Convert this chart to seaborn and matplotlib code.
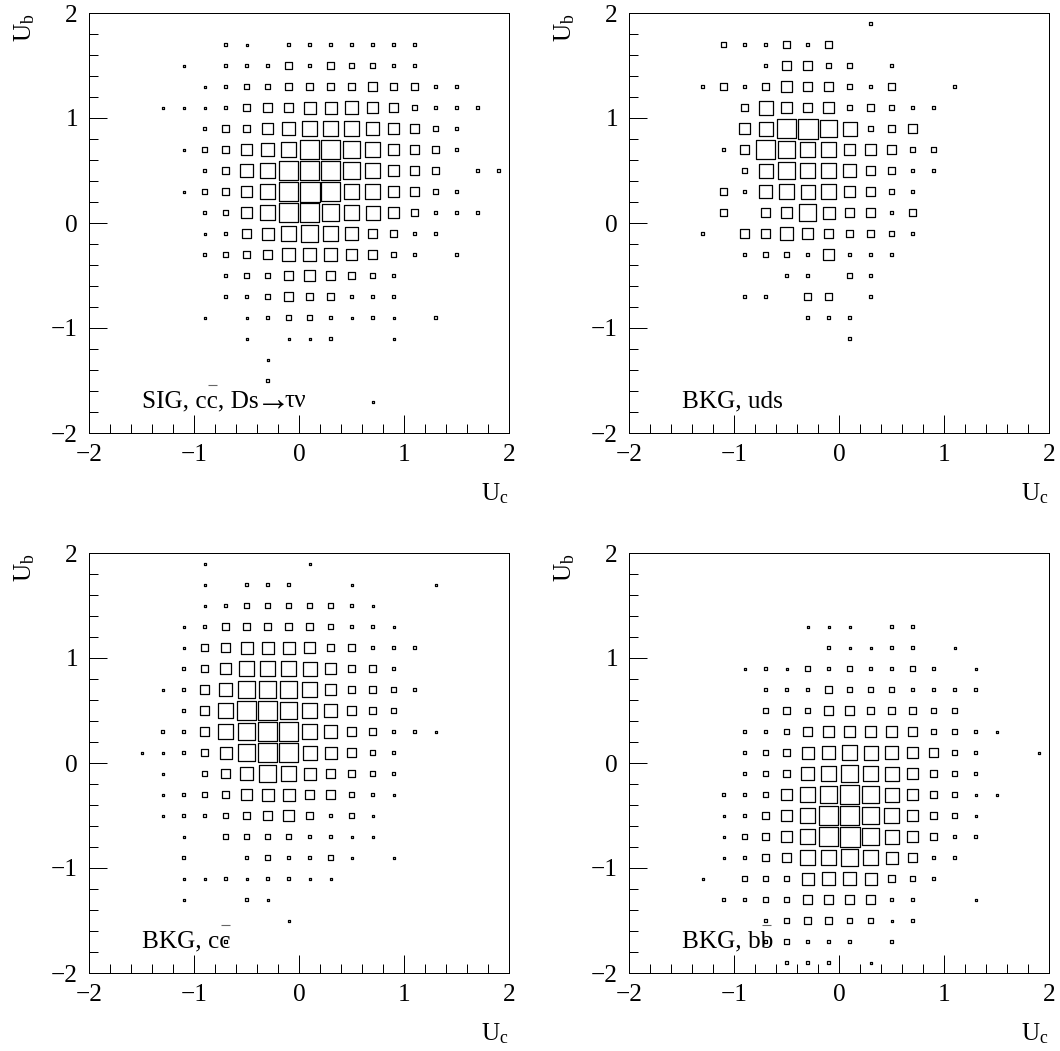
import numpy as np
import pandas as pd
import matplotlib
matplotlib.use("Agg")
import matplotlib.pyplot as plt
from matplotlib.ticker import MultipleLocator
import seaborn as sns

u_c = [-1.9, -1.7, -1.5, -1.3, -1.1, -0.9, -0.7, -0.5, -0.3, -0.1, 0.1, 0.3, 0.5, 0.7, 0.9, 1.1, 1.3, 1.5, 1.7, 1.9]
u_b = u_c[::-1]

# bin contents, scaled so the fullest bin of each panel is 100
# rows go from U_b = 1.9 down to -1.9, columns from U_c = -1.9 to 1.9
sig_counts = [
    [0, 0, 0, 0, 0, 0, 0, 0, 0, 0, 0, 0, 0, 0, 0, 0, 0, 0, 0, 0],
    [0, 0, 0, 0, 0, 0, 2.5, 1, 0, 1.5, 3.6, 2.5, 2.5, 2.5, 1.5, 3, 0, 0, 0, 0],
    [0, 0, 0, 0, 1, 0, 2, 3, 3.6, 10, 3, 10, 6.5, 8, 3, 3, 0, 0, 0, 0],
    [0, 0, 0, 0, 0, 1, 3.6, 6.5, 5, 12, 14, 14, 14, 17, 12, 10, 3.6, 2.5, 0, 0],
    [0, 0, 0, 1, 1, 1, 3.6, 12, 20, 20, 36, 36, 40, 29, 23, 8, 2.5, 2.5, 1.5, 0],
    [0, 0, 0, 0, 0, 3.6, 10, 14, 29, 44, 63, 63, 58, 40, 33, 23, 5, 2.5, 0, 0],
    [0, 0, 0, 0, 1, 6.5, 14, 29, 40, 63, 85, 85, 68, 53, 33, 20, 12, 3.6, 0, 0],
    [0, 0, 0, 0, 0, 3.6, 14, 40, 53, 85, 97, 85, 73, 53, 33, 20, 12, 0, 1.5, 1.5],
    [0, 0, 0, 0, 1, 6.5, 10, 29, 63, 97, 100, 97, 63, 53, 33, 20, 5, 3.6, 0, 0],
    [0, 0, 0, 0, 0, 2.5, 6.5, 29, 53, 85, 85, 68, 63, 49, 29, 14, 3.6, 1.5, 1.5, 0],
    [0, 0, 0, 0, 0, 1, 2.5, 17, 36, 63, 68, 63, 44, 23, 14, 2.5, 3.6, 0, 0, 0],
    [0, 0, 0, 0, 0, 2.5, 5, 12, 23, 40, 44, 40, 33, 20, 6.5, 3.6, 0, 1.5, 0, 0],
    [0, 0, 0, 0, 0, 0, 2.5, 8, 8, 20, 26, 17, 14, 6.5, 3.6, 0, 0, 0, 0, 0],
    [0, 0, 0, 0, 0, 0, 2.5, 3.6, 8, 17, 14, 10, 3.6, 3.6, 1.5, 0, 0, 0, 0, 0],
    [0, 0, 0, 0, 0, 1, 0, 1, 1.5, 5, 5, 3.6, 1, 2, 1, 0, 1.5, 0, 0, 0],
    [0, 0, 0, 0, 0, 0, 0, 1, 0, 1, 1, 1.8, 0, 0, 1, 0, 0, 0, 0, 0],
    [0, 0, 0, 0, 0, 0, 0, 0, 1, 0, 0, 0, 0, 0, 0, 0, 0, 0, 0, 0],
    [0, 0, 0, 0, 0, 0, 0, 0, 1.5, 0, 0, 0, 0, 0, 0, 0, 0, 0, 0, 0],
    [0, 0, 0, 0, 0, 0, 0, 0, 0, 0, 0, 0, 0, 1, 0, 0, 0, 0, 0, 0],
    [0, 0, 0, 0, 0, 0, 0, 0, 0, 0, 0, 0, 0, 0, 0, 0, 0, 0, 0, 0],
]

uds_counts = [
    [0, 0, 0, 0, 0, 0, 0, 0, 0, 0, 0, 3.6, 0, 0, 0, 0, 0, 0, 0, 0],
    [0, 0, 0, 0, 5, 3.6, 3.6, 10, 3.6, 10, 0, 0, 0, 0, 0, 0, 0, 0, 0, 0],
    [0, 0, 0, 0, 0, 0, 3.6, 17, 17, 8, 8, 0, 3.6, 0, 0, 0, 0, 0, 0, 0],
    [0, 0, 0, 3.6, 14, 3.6, 12, 26, 20, 23, 8, 3.6, 14, 0, 0, 3.6, 0, 0, 0, 0],
    [0, 0, 0, 0, 0, 12, 49, 33, 20, 29, 8, 14, 8, 3.6, 3.6, 0, 0, 0, 0, 0],
    [0, 0, 0, 0, 0, 26, 49, 97, 100, 68, 49, 8, 14, 17, 0, 0, 0, 0, 0, 0],
    [0, 0, 0, 0, 3.6, 23, 85, 79, 63, 63, 33, 29, 23, 8, 8, 0, 0, 0, 0, 0],
    [0, 0, 0, 0, 0, 8, 49, 68, 58, 58, 44, 23, 14, 3.6, 3.6, 0, 0, 0, 0, 0],
    [0, 0, 0, 0, 10, 3.6, 44, 58, 49, 63, 33, 23, 8, 3.6, 0, 0, 0, 0, 0, 0],
    [0, 0, 0, 0, 10, 0, 17, 33, 79, 36, 23, 17, 3.6, 10, 0, 0, 0, 0, 0, 0],
    [0, 0, 0, 3.6, 0, 17, 17, 40, 29, 23, 14, 14, 8, 3.6, 0, 0, 0, 0, 0, 0],
    [0, 0, 0, 0, 0, 3.6, 8, 8, 3.6, 33, 3.6, 3.6, 3.6, 0, 0, 0, 0, 0, 0, 0],
    [0, 0, 0, 0, 0, 0, 0, 3.6, 3.6, 0, 8, 3.6, 0, 0, 0, 0, 0, 0, 0, 0],
    [0, 0, 0, 0, 0, 3.6, 3.6, 0, 14, 14, 0, 3.6, 0, 0, 0, 0, 0, 0, 0, 0],
    [0, 0, 0, 0, 0, 0, 0, 0, 3.6, 3.6, 3.6, 0, 0, 0, 0, 0, 0, 0, 0, 0],
    [0, 0, 0, 0, 0, 0, 0, 0, 0, 0, 3.6, 0, 0, 0, 0, 0, 0, 0, 0, 0],
    [0, 0, 0, 0, 0, 0, 0, 0, 0, 0, 0, 0, 0, 0, 0, 0, 0, 0, 0, 0],
    [0, 0, 0, 0, 0, 0, 0, 0, 0, 0, 0, 0, 0, 0, 0, 0, 0, 0, 0, 0],
    [0, 0, 0, 0, 0, 0, 0, 0, 0, 0, 0, 0, 0, 0, 0, 0, 0, 0, 0, 0],
    [0, 0, 0, 0, 0, 0, 0, 0, 0, 0, 0, 0, 0, 0, 0, 0, 0, 0, 0, 0],
]

cc_counts = [
    [0, 0, 0, 0, 0, 1, 0, 0, 0, 0, 1, 0, 0, 0, 0, 0, 0, 0, 0, 0],
    [0, 0, 0, 0, 0, 1, 0, 1.5, 1.5, 2.5, 0, 0, 1, 0, 0, 0, 1, 0, 0, 0],
    [0, 0, 0, 0, 0, 1, 3.6, 5, 8, 8, 6.5, 5, 2.5, 1, 0, 0, 0, 0, 0, 0],
    [0, 0, 0, 0, 1, 3.6, 10, 14, 14, 14, 10, 5, 3.6, 2.5, 1, 0, 0, 0, 0, 0],
    [0, 0, 0, 0, 1, 10, 23, 36, 36, 36, 26, 14, 12, 2.5, 2.5, 1.6, 0, 0, 0, 0],
    [0, 0, 0, 0, 2.5, 10, 29, 53, 53, 58, 49, 26, 14, 10, 3.6, 0, 0, 0, 0, 0],
    [0, 0, 0, 1, 3.6, 20, 40, 79, 79, 68, 58, 33, 10, 10, 5, 1.6, 0, 0, 0, 0],
    [0, 0, 0, 0, 2.5, 23, 53, 97, 97, 79, 58, 44, 17, 14, 5, 0, 0, 0, 0, 0],
    [0, 0, 0, 2.5, 2.5, 20, 53, 79, 97, 97, 58, 40, 17, 12, 3.6, 2.5, 1, 0, 0, 0],
    [0, 0, 1, 1, 2.5, 10, 36, 68, 85, 85, 49, 36, 17, 6.5, 3.6, 0, 0, 0, 0, 0],
    [0, 0, 0, 1, 0, 8, 23, 44, 68, 53, 36, 23, 14, 6.5, 2.5, 0, 0, 0, 0, 0],
    [0, 0, 0, 1, 2.5, 5, 10, 26, 36, 36, 23, 17, 6.5, 2.5, 1, 0, 0, 0, 0, 0],
    [0, 0, 0, 1, 2.5, 1.6, 8, 10, 23, 29, 14, 3.6, 5, 1, 0, 0, 0, 0, 0, 0],
    [0, 0, 0, 0, 1, 0, 5, 6.5, 8, 8, 2.5, 3.6, 1, 1, 0, 0, 0, 0, 0, 0],
    [0, 0, 0, 0, 1.6, 0, 0, 3.6, 5, 3.6, 3.6, 5, 1, 0, 1, 0, 0, 0, 0, 0],
    [0, 0, 0, 0, 1, 1, 1.6, 1, 2.5, 3.6, 1, 1, 0, 0, 0, 0, 0, 0, 0, 0],
    [0, 0, 0, 0, 1, 0, 0, 1.6, 1, 0, 0, 0, 0, 0, 0, 0, 0, 0, 0, 0],
    [0, 0, 0, 0, 0, 0, 0, 0, 0, 1, 0, 0, 0, 0, 0, 0, 0, 0, 0, 0],
    [0, 0, 0, 0, 0, 0, 1.6, 0, 0, 0, 0, 0, 0, 0, 0, 0, 0, 0, 0, 0],
    [0, 0, 0, 0, 0, 0, 0, 0, 0, 0, 0, 0, 0, 0, 0, 0, 0, 0, 0, 0],
]

bb_counts = [
    [0, 0, 0, 0, 0, 0, 0, 0, 0, 0, 0, 0, 0, 0, 0, 0, 0, 0, 0, 0],
    [0, 0, 0, 0, 0, 0, 0, 0, 0, 0, 0, 0, 0, 0, 0, 0, 0, 0, 0, 0],
    [0, 0, 0, 0, 0, 0, 0, 0, 0, 0, 0, 0, 0, 0, 0, 0, 0, 0, 0, 0],
    [0, 0, 0, 0, 0, 0, 0, 0, 1, 1, 1, 0, 1.5, 2, 0, 0, 0, 0, 0, 0],
    [0, 0, 0, 0, 0, 0, 0, 0, 0, 2.5, 1, 1, 1.6, 1.6, 0, 1, 0, 0, 0, 0],
    [0, 0, 0, 0, 0, 1, 2.5, 1, 5, 1.6, 5, 2.5, 3.6, 6.5, 1.6, 0, 1, 0, 0, 0],
    [0, 0, 0, 0, 0, 0, 1.2, 3.6, 3.6, 12, 8, 8, 6.5, 3.6, 3.6, 1.6, 2.5, 0, 0, 0],
    [0, 0, 0, 0, 0, 0, 5, 10, 5, 17, 23, 14, 14, 10, 5, 8, 0, 0, 0, 0],
    [0, 0, 0, 0, 0, 3.6, 2.5, 8, 23, 33, 29, 29, 29, 17, 8, 5, 1.6, 1, 0, 0],
    [0, 0, 0, 0, 0, 2.5, 8, 14, 36, 40, 63, 49, 44, 26, 20, 5, 3.6, 0, 0, 1],
    [0, 0, 0, 0, 0, 1.6, 8, 14, 44, 58, 68, 58, 49, 33, 14, 6.5, 2.5, 0, 0, 0],
    [0, 0, 0, 0, 1.6, 1.6, 8, 33, 63, 79, 85, 73, 49, 26, 14, 6.5, 1, 1, 0, 0],
    [0, 0, 0, 0, 1, 1.4, 14, 26, 58, 85, 97, 73, 58, 33, 12, 8, 1, 0, 0, 0],
    [0, 0, 0, 0, 1, 5, 10, 26, 58, 97, 100, 73, 49, 26, 10, 3.6, 2.5, 0, 0, 0],
    [0, 0, 0, 0, 1, 1.6, 10, 17, 53, 58, 73, 63, 36, 20, 1.6, 1.6, 0, 0, 0, 0],
    [0, 0, 0, 1, 0, 5, 8, 8, 36, 44, 44, 36, 14, 8, 1.6, 0, 0, 0, 0, 0],
    [0, 0, 0, 0, 1.6, 2.5, 6.5, 8, 23, 23, 23, 17, 2.5, 2.5, 0, 0, 1, 0, 0, 0],
    [0, 0, 0, 0, 0, 0, 3.6, 5, 10, 12, 8, 5, 1, 1.6, 0, 0, 0, 0, 0, 0],
    [0, 0, 0, 0, 0, 0, 2.5, 5, 3.6, 3.6, 3.6, 0, 1.2, 0, 0, 0, 0, 0, 0, 0],
    [0, 0, 0, 0, 0, 0, 0, 1.6, 1.2, 2.5, 0, 1, 0, 0, 0, 0, 0, 0, 0, 0],
]

sns.set_style("ticks")
plt.rcParams["font.family"] = ["Liberation Serif", "DejaVu Serif"]
plt.rcParams["mathtext.fontset"] = "custom"
plt.rcParams["mathtext.rm"] = "Liberation Serif"
plt.rcParams["mathtext.default"] = "rm"
plt.rcParams["text.color"] = "black"
plt.rcParams["axes.labelcolor"] = "black"
plt.rcParams["xtick.labelcolor"] = "black"
plt.rcParams["ytick.labelcolor"] = "black"

W, H = 1060, 1051
FS = 18.2
BAR_Y = -1.543


def tidy(counts):
    df = pd.DataFrame(counts, index=u_b, columns=u_c)
    df = df.rename_axis(index="ub", columns="uc").stack().reset_index(name="count")
    return df[df["count"] > 0]


def box_panel(fig, left, top, counts, label, bar=None):
    ax = fig.add_axes([left / W, 1 - (top + 420) / H, 420 / W, 420 / H])
    sns.scatterplot(data=tidy(counts), x="uc", y="ub", size="count", size_norm=(0, 100),
                    sizes=(0, (20 * 0.72) ** 2), marker="s", facecolor="none",
                    edgecolor="black", linewidth=0.9, legend=False, ax=ax)
    ax.set_xlim(-2, 2)
    ax.set_ylim(-2, 2)
    ax.xaxis.set_major_locator(MultipleLocator(1))
    ax.yaxis.set_major_locator(MultipleLocator(1))
    ax.xaxis.set_minor_locator(MultipleLocator(0.2))
    ax.yaxis.set_minor_locator(MultipleLocator(0.2))
    ax.tick_params(which="major", direction="in", length=13, width=0.72, labelsize=FS, color="black")
    ax.tick_params(which="minor", direction="in", length=6.5, width=0.72, color="black")
    ax.tick_params(axis="x", which="major", pad=8)
    ax.tick_params(axis="y", which="major", pad=8)
    for s in ax.spines.values():
        s.set_linewidth(0.72)
        s.set_color("black")
    ax.set_xlabel(r"U$_{c}$", loc="right", fontsize=FS, labelpad=11)
    ax.set_ylabel(r"U$_{b}$", loc="top", fontsize=FS, labelpad=10)
    ax.text(-1.495, -1.752, label, fontsize=FS, ha="left", va="baseline")
    # bar over the anti-quark, it sits well above the letter
    if bar is not None:
        ax.hlines(BAR_Y, bar[0], bar[1], color="0.4", linewidth=0.8)
    return ax


fig = plt.figure(figsize=(W / 100, H / 100), dpi=100)
ax_sig = box_panel(fig, 89, 13, sig_counts, "SIG, cc, Ds", (-0.867, -0.78))
ax_sig.text(-0.41, -1.79, "\u2192", fontsize=25, va="baseline")
ax_sig.text(-0.135, -1.752, "\u03c4\u03bd", fontsize=FS, va="baseline")
box_panel(fig, 629, 13, uds_counts, "BKG, uds")
box_panel(fig, 89, 553, cc_counts, "BKG, cc", (-0.743, -0.657))
box_panel(fig, 629, 553, bb_counts, "BKG, bb", (-0.733, -0.648))
fig.savefig("out.png", dpi=100)
